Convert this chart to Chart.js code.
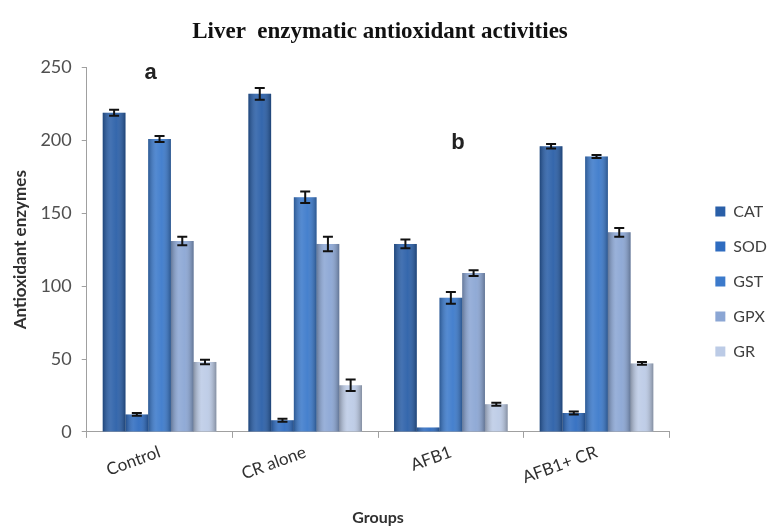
<!DOCTYPE html>
<html>
<head>
<meta charset="utf-8">
<script src="https://cdn.jsdelivr.net/npm/chart.js@4"></script>
<style>
  html, body { margin: 0; padding: 0; background: #fff; }
  #wrap { width: 771px; height: 529px; }
</style>
</head>
<body>
<div id="wrap"><canvas id="liverChart"></canvas></div>
<script>
// groups on the x axis
const groups = ['Control', 'CR alone', 'AFB1', 'AFB1+ CR'];

// enzyme values per group
const catVals = [219, 232, 129, 196];
const sodVals = [12, 8, 3, 13];
const gstVals = [201, 161, 92, 189];
const gpxVals = [131, 129, 109, 137];
const grVals  = [48, 32, 19, 47];

// error bar half-heights
const catErr = [2, 4, 3, 1.5];
const sodErr = [1, 1, 0, 1];
const gstErr = [2, 4, 4, 1];
const gpxErr = [3, 5, 2, 3];
const grErr  = [1.5, 4, 1, 1];

const yTicks = [0, 50, 100, 150, 200, 250];

// push the legend a bit right and down, like the original
const legendShift = {
    id: 'legendShift',
    afterLayout(chart) {
        const lg = chart.legend;
        if (!lg) return;
        lg.left += 27;
        lg.right += 27;
        lg.top += 18;
        lg.bottom += 18;
    }
};

const errorBars = {
    id: 'errorBars',
    afterDatasetsDraw(chart) {
        const ctx = chart.ctx;
        const yScale = chart.scales.y;
        chart.data.datasets.forEach((ds, i) => {
            const meta = chart.getDatasetMeta(i);
            meta.data.forEach((bar, j) => {
                // shading so the bars look a bit round
                const left = bar.x - bar.width / 2;
                const right = bar.x + bar.width / 2;
                const g = ctx.createLinearGradient(left, 0, right, 0);
                g.addColorStop(0, 'rgba(0,0,0,0.28)');
                g.addColorStop(0.35, 'rgba(255,255,255,0.12)');
                g.addColorStop(0.6, 'rgba(255,255,255,0.05)');
                g.addColorStop(1, 'rgba(0,0,0,0.30)');
                ctx.save();
                ctx.fillStyle = g;
                ctx.fillRect(left, bar.y, bar.width, bar.base - bar.y);
                ctx.restore();

                const err = ds.errors[j];
                if (!err) return;
                const v = ds.data[j];
                const yTop = yScale.getPixelForValue(v + err);
                const yBot = yScale.getPixelForValue(v - err);
                ctx.save();
                ctx.strokeStyle = '#111';
                ctx.lineWidth = 2;
                ctx.beginPath();
                ctx.moveTo(bar.x, yTop);
                ctx.lineTo(bar.x, yBot);
                ctx.moveTo(bar.x - 5, yTop);
                ctx.lineTo(bar.x + 5, yTop);
                ctx.moveTo(bar.x - 5, yBot);
                ctx.lineTo(bar.x + 5, yBot);
                ctx.stroke();
                ctx.restore();
            });
        });
        // the little letters over the groups
        ctx.save();
        ctx.fillStyle = '#222';
        ctx.font = 'bold 22px "Liberation Sans", Arial, sans-serif';
        ctx.textAlign = 'center';
        ctx.textBaseline = 'middle';
        const xs = chart.scales.x;
        ctx.fillText('a', xs.getPixelForValue(0) - 9, yScale.getPixelForValue(246));
        ctx.fillText('b', xs.getPixelForValue(2) + 7, yScale.getPixelForValue(198));
        ctx.restore();
    }
};

const myChart = new Chart(document.getElementById('liverChart').getContext('2d'), {
    type: 'bar',
    data: {
        labels: groups,
        datasets: [
            { label: 'CAT', data: catVals, errors: catErr, backgroundColor: '#2a5fa8' },
            { label: 'SOD', data: sodVals, errors: sodErr, backgroundColor: '#2f6cc0' },
            { label: 'GST', data: gstVals, errors: gstErr, backgroundColor: '#3c7acb' },
            { label: 'GPX', data: gpxVals, errors: gpxErr, backgroundColor: '#8ba6d4' },
            { label: 'GR',  data: grVals,  errors: grErr,  backgroundColor: '#bccbe6' }
        ]
    },
    options: {
        responsive: true,
        maintainAspectRatio: false,
        animation: false,
        devicePixelRatio: 1,
        layout: { padding: { left: 10, right: 21, top: 0, bottom: 2 } },
        datasets: {
            bar: { categoryPercentage: 0.78, barPercentage: 1.0, borderWidth: 0 }
        },
        plugins: {
            title: {
                display: true,
                text: 'Liver  enzymatic antioxidant activities',
                color: '#111',
                font: { family: '"Liberation Serif", "Times New Roman", serif', size: 23, weight: 'bold' },
                padding: { top: 18, bottom: 22 }
            },
            legend: {
                position: 'right',
                labels: {
                    color: '#404040',
                    font: { family: 'Lato, sans-serif', size: 16 },
                    boxWidth: 10,
                    boxHeight: 10,
                    padding: 19
                }
            },
            tooltip: { enabled: false }
        },
        scales: {
            x: {
                grid: {
                    display: true,
                    drawOnChartArea: false,
                    offset: true,
                    tickLength: 6,
                    color: '#a0a0a0'
                },
                border: { color: '#a0a0a0' },
                ticks: {
                    color: '#303030',
                    font: { family: 'Lato, sans-serif', size: 17 },
                    minRotation: 20,
                    maxRotation: 20,
                    padding: 4
                },
                title: {
                    display: true,
                    text: 'Groups',
                    color: '#303030',
                    font: { family: 'Lato, sans-serif', size: 16, weight: 'bold' },
                    padding: { top: 16, bottom: 0 }
                }
            },
            y: {
                min: 0,
                max: 250,
                afterBuildTicks: (axis) => { axis.ticks = yTicks.map(v => ({ value: v })); },
                grid: {
                    display: true,
                    drawOnChartArea: false,
                    tickLength: 5,
                    color: '#a0a0a0'
                },
                border: { color: '#a0a0a0' },
                ticks: {
                    color: '#505050',
                    font: { family: 'Lato, sans-serif', size: 18 },
                    padding: 10
                },
                title: {
                    display: true,
                    text: 'Antioxidant enzymes',
                    color: '#303030',
                    font: { family: 'Lato, sans-serif', size: 17, weight: 'bold' },
                    padding: { top: 0, bottom: 0 }
                }
            }
        }
    },
    plugins: [errorBars, legendShift]
});
</script>
</body>
</html>
